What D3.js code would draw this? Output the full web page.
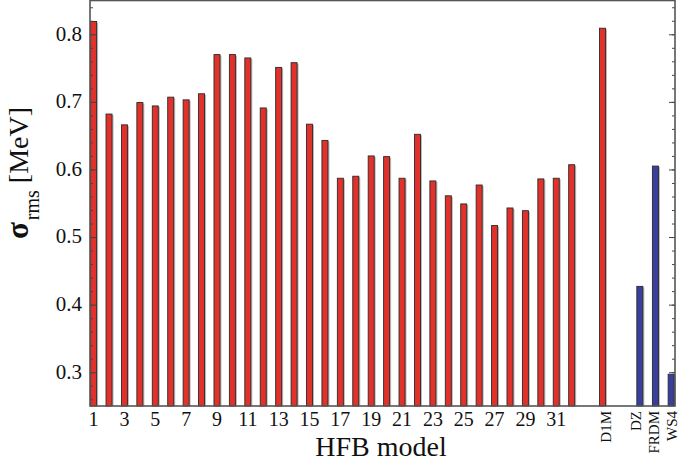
<!DOCTYPE html>
<head>
  <meta charset="utf-8">
  <script src="https://d3js.org/d3.v7.min.js"></script>
  <style>
    body { margin:0; background:#fff; }
    svg { display:block; font-family:"Liberation Serif", "DejaVu Serif", serif; }
  </style>
</head>
<body>
<script>
// rms deviations
var hfbModels = d3.range(1, 33).map(String);
var hfbValues = [0.819, 0.682, 0.666, 0.699, 0.694, 0.707, 0.703, 0.712, 0.770, 0.770,
                 0.765, 0.691, 0.751, 0.758, 0.667, 0.643, 0.587, 0.590, 0.620, 0.619,
                 0.587, 0.652, 0.583, 0.561, 0.549, 0.577, 0.517, 0.543, 0.539, 0.586,
                 0.587, 0.607];
var otherModels = ["D1M", "DZ", "FRDM", "WS4"];
var otherValues = [0.809, 0.427, 0.605, 0.297];
var otherKind = ["hfb", "mac", "mac", "mac"];
var yTicks = [0.3, 0.4, 0.5, 0.6, 0.7, 0.8];
var xTickLabels = ["1","3","5","7","9","11","13","15","17","19","21","23","25","27","29","31"];

var W = 685, H = 464;
var m = {left: 90, right: 10, top: 0.5, bottom: 58};

// slot of each bar along x
var slotOf = {D1M: 34, DZ: 36.42, FRDM: 37.43, WS4: 38.45};
var labelSlot = {D1M: 34.2, DZ: 36.15, FRDM: 37.35, WS4: 38.5};
var colors = {hfb: "#e1312a", mac: "#3a3f9d"};

var bars = hfbModels.map(function(d, i) { return {name: d, slot: i + 1, value: hfbValues[i], kind: "hfb"}; })
  .concat(otherModels.map(function(d, i) { return {name: d, slot: slotOf[d], value: otherValues[i], kind: otherKind[i]}; }));

var x = d3.scaleLinear().domain([0.7665, 38.70]).range([m.left, W - m.right]);
var y = d3.scaleLinear().domain([0.25, 0.85]).range([H - m.bottom, m.top]);

var svg = d3.select("body").append("svg").attr("width", W).attr("height", H);

var bw = 6;
// soft shadow right of each bar
svg.append("g").selectAll("rect")
  .data(bars).enter().append("rect")
  .attr("x", function(d) { return x(d.slot) - bw / 2 + 1.5; })
  .attr("y", function(d) { return y(d.value) + 1; })
  .attr("width", bw)
  .attr("height", function(d) { return y(0.25) - y(d.value) - 1; })
  .attr("fill", "#b8b8b8");

svg.append("g").selectAll("rect")
  .data(bars).enter().append("rect")
  .attr("x", function(d) { return x(d.slot) - bw / 2; })
  .attr("y", function(d) { return y(d.value); })
  .attr("width", bw)
  .attr("height", function(d) { return y(0.25) - y(d.value); })
  .attr("fill", function(d) { return colors[d.kind]; })
  .attr("stroke", "#2a2a2a")
  .attr("stroke-width", 0.9);

// minor and major ticks, left and right
var minor = d3.range(0.26, 0.85, 0.02);
var leftAxis = d3.axisRight(y).tickValues(minor).tickSize(3).tickFormat("");
var leftMajor = d3.axisRight(y).tickValues(yTicks).tickSize(6).tickFormat("");
var rightAxis = d3.axisLeft(y).tickValues(minor).tickSize(3).tickFormat("");
var rightMajor = d3.axisLeft(y).tickValues(yTicks).tickSize(6).tickFormat("");
[[leftAxis, m.left], [leftMajor, m.left], [rightAxis, W - m.right], [rightMajor, W - m.right]].forEach(function(a) {
  var g = svg.append("g").attr("transform", "translate(" + a[1] + ",0)").call(a[0]);
  g.select(".domain").remove();
  g.selectAll("line").attr("stroke", "#444").attr("stroke-width", 1);
});

// frame
svg.append("rect")
  .attr("x", m.left).attr("y", m.top)
  .attr("width", W - m.right - m.left).attr("height", H - m.bottom - m.top)
  .attr("fill", "none").attr("stroke", "#555").attr("stroke-width", 1.6);

// y tick labels
svg.append("g").selectAll("text")
  .data(yTicks).enter().append("text")
  .attr("x", m.left - 8)
  .attr("y", function(d) { return y(d); })
  .attr("dy", "0.3em")
  .attr("text-anchor", "end")
  .attr("font-size", 21)
  .attr("fill", "#111")
  .text(function(d) { return d3.format(".1f")(d); });

// x tick labels
svg.append("g").selectAll("text")
  .data(xTickLabels).enter().append("text")
  .attr("x", function(d) { return x(+d); })
  .attr("y", 426)
  .attr("text-anchor", "middle")
  .attr("font-size", 20)
  .attr("fill", "#111")
  .text(function(d) { return d; });

svg.append("g").selectAll("text")
  .data(otherModels).enter().append("text")
  .attr("transform", function(d) { return "translate(" + x(labelSlot[d]) + ",411) rotate(-90)"; })
  .attr("dy", "0.35em")
  .attr("text-anchor", "end")
  .attr("font-size", 15)
  .attr("fill", "#111")
  .text(function(d) { return d; });

svg.append("text")
  .attr("x", 381).attr("y", 456)
  .attr("text-anchor", "middle")
  .attr("font-size", 28)
  .attr("fill", "#111")
  .text("HFB model");

var yl = svg.append("text")
  .attr("transform", "translate(28,239) rotate(-90)")
  .attr("fill", "#111");
yl.append("tspan").attr("font-size", 31).attr("font-weight", "bold").text("σ");
yl.append("tspan").attr("font-size", 20).attr("dy", 11).attr("dx", 2).text("rms");
yl.append("tspan").attr("font-size", 28).attr("dy", -11).text(" [MeV]");
</script>
</body>
